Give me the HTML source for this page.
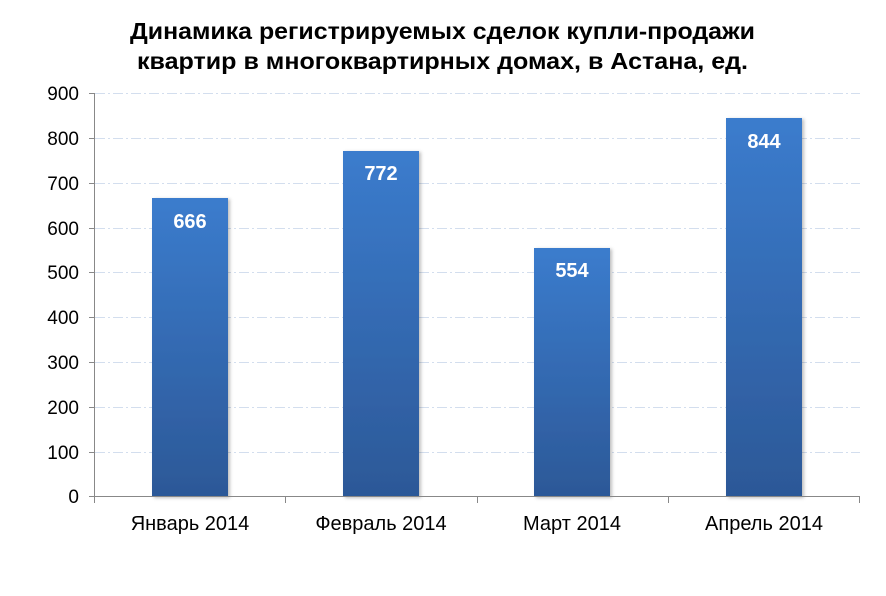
<!DOCTYPE html>
<html><head><meta charset="utf-8"><style>body{margin:0;background:#fff}</style></head><body>
<svg width="886" height="591" xmlns="http://www.w3.org/2000/svg" font-family="Liberation Sans, sans-serif">
<defs><linearGradient id="g" x1="0" y1="0" x2="0" y2="1"><stop offset="0" stop-color="#3b7ccd"/><stop offset="1" stop-color="#2c5897"/></linearGradient>
<filter id="s"><feDropShadow dx="2" dy="1" stdDeviation="1.5" flood-opacity="0.25"/></filter></defs>
<text x="130" y="39" font-size="23" font-weight="bold" textLength="625" lengthAdjust="spacingAndGlyphs">Динамика регистрируемых сделок купли-продажи</text>
<text x="137" y="69" font-size="23" font-weight="bold" textLength="611" lengthAdjust="spacingAndGlyphs">квартир в многоквартирных домах, в Астана, ед.</text>
<g stroke="#d3deee" stroke-dasharray="10,3,2,3" stroke-width="1">
<line x1="95" x2="860" y1="93.5" y2="93.5"/><line x1="95" x2="860" y1="138.5" y2="138.5"/><line x1="95" x2="860" y1="183.5" y2="183.5"/><line x1="95" x2="860" y1="228.5" y2="228.5"/><line x1="95" x2="860" y1="272.5" y2="272.5"/><line x1="95" x2="860" y1="317.5" y2="317.5"/><line x1="95" x2="860" y1="362.5" y2="362.5"/><line x1="95" x2="860" y1="407.5" y2="407.5"/><line x1="95" x2="860" y1="452.5" y2="452.5"/>
</g>
<g fill="url(#g)" filter="url(#s)">
<rect x="152" y="198" width="76" height="299"/>
<rect x="343" y="151" width="76" height="346"/>
<rect x="534" y="248" width="76" height="249"/>
<rect x="726" y="118" width="76" height="379"/>
</g>
<g fill="#fff" font-size="20" font-weight="bold" text-anchor="middle">
<text x="190" y="228">666</text><text x="381" y="180">772</text><text x="572" y="277">554</text><text x="764" y="148">844</text>
</g>
<g stroke="#888" stroke-width="1">
<line x1="94.5" y1="93" x2="94.5" y2="497"/><line x1="94" y1="496.5" x2="860" y2="496.5"/>
<line x1="89" x2="94" y1="93.5" y2="93.5"/><line x1="89" x2="94" y1="138.5" y2="138.5"/><line x1="89" x2="94" y1="183.5" y2="183.5"/><line x1="89" x2="94" y1="228.5" y2="228.5"/><line x1="89" x2="94" y1="272.5" y2="272.5"/><line x1="89" x2="94" y1="317.5" y2="317.5"/><line x1="89" x2="94" y1="362.5" y2="362.5"/><line x1="89" x2="94" y1="407.5" y2="407.5"/><line x1="89" x2="94" y1="452.5" y2="452.5"/><line x1="89" x2="94" y1="496.5" y2="496.5"/>
<line x1="94.5" x2="94.5" y1="496" y2="503"/><line x1="285.5" x2="285.5" y1="496" y2="503"/><line x1="477.5" x2="477.5" y1="496" y2="503"/><line x1="668.5" x2="668.5" y1="496" y2="503"/><line x1="859.5" x2="859.5" y1="496" y2="503"/>
</g>
<g font-size="19" text-anchor="end" fill="#000">
<text x="79" y="100">900</text><text x="79" y="145">800</text><text x="79" y="190">700</text><text x="79" y="235">600</text><text x="79" y="279">500</text><text x="79" y="324">400</text><text x="79" y="369">300</text><text x="79" y="414">200</text><text x="79" y="459">100</text><text x="79" y="503">0</text>
</g>
<g font-size="20" text-anchor="middle">
<text x="190" y="530">Январь 2014</text><text x="381" y="530">Февраль 2014</text><text x="572" y="530">Март 2014</text><text x="764" y="530">Апрель 2014</text>
</g>
</svg>
</body></html>
